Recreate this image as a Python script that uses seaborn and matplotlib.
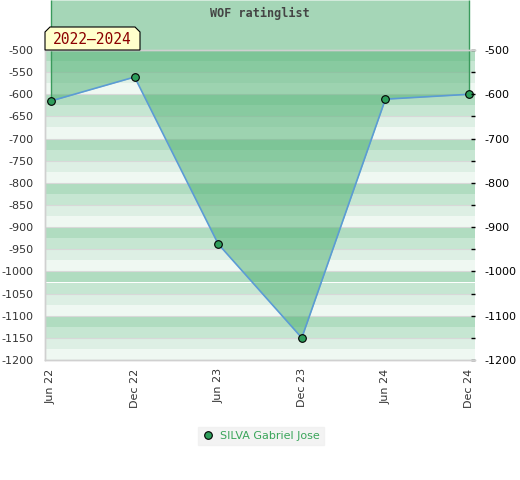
import matplotlib
matplotlib.use("Agg")
import matplotlib.pyplot as plt
import seaborn as sns
import pandas as pd
import numpy as np
from matplotlib.patches import Polygon
from matplotlib.lines import Line2D

# Data
periods = ["Jun 22", "Dec 22", "Jun 23", "Dec 23", "Jun 24", "Dec 24"]
ratings = [-615, -561, -938, -1150, -611, -600]
player = "SILVA Gabriel Jose"
period_label = "2022\u20132024"
title = "WOF ratinglist"

YMIN, YMAX = -1200, -500
STRIPES = ["#b0dcc0", "#c6e6d2", "#ddefe4", "#eff8f2"]
FILL = "#4caf70"
LINE = "#5b9bd5"
MARK = "#2e9e5b"

sns.set_theme(style="white")
plt.rcParams["font.family"] = ["DejaVu Sans"]

df = pd.DataFrame({"x": np.arange(len(periods)), "rating": ratings})

fig = plt.figure(figsize=(5.2, 4.8), dpi=100)
ax = fig.add_axes([45 / 520, 120 / 480, 430 / 520, 310 / 480])

# striped background, 25-point bands
for i, lo in enumerate(range(YMAX, YMIN, -25)):
    ax.axhspan(lo - 25, lo, color=STRIPES[i % 4], lw=0, zorder=0)
for v in range(YMIN, YMAX + 1, 50):
    ax.axhline(v, color="#d8d8d8", lw=0.8, zorder=0.5)

# fill from the line up to the top of the figure
top = YMAX + 50 / (310 / (YMAX - YMIN))
ax.fill_between(df["x"], df["rating"], top, color=FILL, alpha=0.5, lw=0,
                clip_on=False, zorder=1)
ax.vlines([df["x"].iloc[0], df["x"].iloc[-1]],
          [df["rating"].iloc[0], df["rating"].iloc[-1]], top,
          color="#3a9a5c", lw=1, clip_on=False, zorder=1.5)

sns.lineplot(data=df, x="x", y="rating", ax=ax, color=LINE, lw=1.2,
             marker="o", markersize=5.5, markerfacecolor=MARK,
             markeredgecolor="black", markeredgewidth=0.8, zorder=3,
             clip_on=False)

ax.set_xlim(-0.072, len(periods) - 1 + 0.072)
ax.set_ylim(YMIN, YMAX)
ax.set_xticks(df["x"])
ax.set_xticklabels(periods, rotation=90, fontsize=8, color="#333333")
ax.set_yticks(range(YMIN, YMAX + 1, 50))
ax.set_yticklabels([str(v) for v in range(YMIN, YMAX + 1, 50)],
                   fontsize=8, color="#333333")
ax.tick_params(axis="x", length=0, pad=6)
ax.tick_params(axis="y", length=0, pad=8)
ax.set_xlabel("")
ax.set_ylabel("")

# right axis: labels every 100, ticks every 50
ax2 = ax.twinx()
ax2.set_ylim(YMIN, YMAX)
ax2.set_yticks(range(YMIN, YMAX + 1, 100))
ax2.set_yticklabels([str(v) for v in range(YMIN, YMAX + 1, 100)],
                    fontsize=8, color="black")
ax2.set_yticks(range(YMIN + 50, YMAX, 100), minor=True)
ax2.tick_params(axis="y", which="both", direction="in", length=3,
                width=1, color="black", pad=7)
ax2.grid(False)

for a in (ax, ax2):
    for s in a.spines.values():
        s.set_color("#d0d0d0")
        s.set_linewidth(1)
    a.spines["right"].set_visible(False)

fig.text(260 / 520, 1 - 13 / 480, title, ha="center", va="center",
         fontsize=8.5, family="DejaVu Sans Mono", fontweight="bold",
         color="#444444")

# period label box with chamfered top corners
W, H = 520, 480
pts = [(45, 50), (45, 32), (50, 27), (135, 27), (140, 32), (140, 50)]
box = Polygon([(x / W, 1 - y / H) for x, y in pts], closed=True,
              facecolor="#ffffcc", edgecolor="black", lw=0.8,
              transform=fig.transFigure, zorder=5)
fig.patches.append(box)
fig.text(92 / W, 1 - 40 / H, period_label, ha="center", va="center",
         fontsize=10.5, family="DejaVu Sans Mono", color="#8b0000", zorder=6)

handle = Line2D([], [], ls="none", marker="o", markersize=5.5,
                markerfacecolor=MARK, markeredgecolor="black",
                markeredgewidth=0.8)
leg = fig.legend([handle], [player], loc="center", bbox_to_anchor=(261 / W, 1 - 436 / H),
                 frameon=True, fontsize=8, handlelength=1, handletextpad=0.6,
                 borderpad=0.4, fancybox=False)
leg.get_frame().set_facecolor("#f0f0f0")
leg.get_frame().set_edgecolor("#f0f0f0")
for t in leg.get_texts():
    t.set_color("#3aa55a")

fig.savefig("out.png", dpi=100)
